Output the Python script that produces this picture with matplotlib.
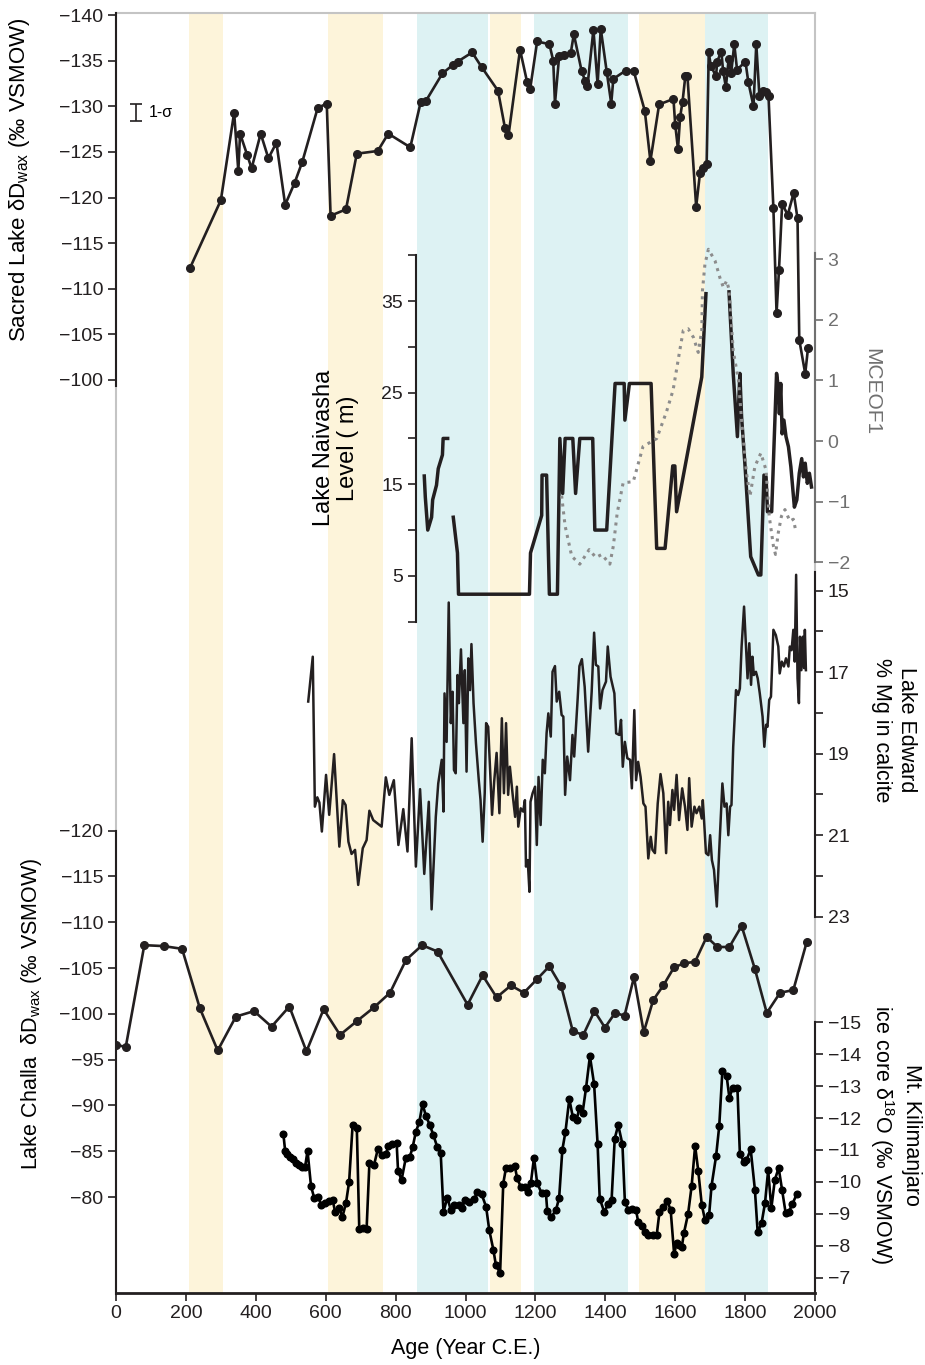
import numpy as np
import matplotlib.pyplot as plt

plt.rcParams['font.family'] = ['Liberation Sans', 'DejaVu Sans']
plt.rcParams['mathtext.fontset'] = 'custom'
plt.rcParams['mathtext.rm'] = 'Liberation Sans'

# ---- data (years C.E.) ----
yellow_bands = [(210, 305), (608, 765), (1070, 1158), (1497, 1684)]
cyan_bands = [(860, 1064), (1196, 1464), (1684, 1866)]

sacred_year = [212, 300, 338, 350, 355, 375, 388, 414, 436, 459,
               484, 511, 533, 577, 603, 614, 658, 689, 749, 779,
               842, 872, 887, 934, 963, 978, 1019, 1046, 1093, 1113,
               1123, 1156, 1176, 1185, 1205, 1240, 1251, 1256, 1268, 1282,
               1301, 1310, 1332, 1342, 1349, 1366, 1378, 1387, 1404, 1417,
               1423, 1458, 1481, 1513, 1529, 1554, 1595, 1600, 1608, 1614,
               1621, 1629, 1635, 1660, 1671, 1680, 1690, 1696, 1702, 1717,
               1720, 1732, 1737, 1745, 1753, 1760, 1769, 1777, 1801, 1809,
               1824, 1832, 1841, 1851, 1859, 1867, 1881, 1890, 1897, 1906,
               1922, 1939, 1950, 1955, 1972, 1980]
sacred_dD = [-112.3, -119.7, -129.3, -122.9, -127.0, -124.7, -123.2, -127.0, -124.3, -126.0,
             -119.2, -121.6, -123.9, -129.8, -130.3, -118.0, -118.7, -124.8, -125.1, -127.0,
             -125.5, -130.5, -130.6, -133.6, -134.5, -134.9, -135.9, -134.3, -131.7, -127.6,
             -126.8, -136.2, -132.7, -131.9, -137.1, -136.8, -135.0, -130.3, -135.5, -135.6,
             -135.8, -137.9, -133.9, -132.8, -132.2, -138.4, -132.4, -138.5, -133.8, -130.3,
             -133.0, -133.9, -133.9, -129.5, -124.0, -130.2, -130.8, -128.0, -125.3, -128.8,
             -130.5, -133.3, -133.3, -119.0, -122.7, -123.2, -123.7, -135.9, -134.4, -133.3,
             -134.9, -136.0, -133.9, -132.1, -135.2, -133.6, -136.8, -134.0, -134.9, -132.7,
             -130.0, -136.8, -131.1, -131.7, -131.6, -131.1, -118.8, -107.3, -112.1, -119.3,
             -118.1, -120.5, -117.7, -104.4, -100.7, -103.5]

naivasha_year = [882, 885, 892, 903, 906, 917, 922, 934, 936, 949, np.nan,
                 965, 977, 980, 1183, 1186, 1218, 1219, 1232, 1240, 1263,
                 1270, 1278, 1285, 1307, 1315, 1327, 1364, 1370, 1404, 1428,
                 1454, 1456, 1469, 1531, 1547, 1571, 1593, 1599, 1604, 1676,
                 1688, np.nan, 1754, 1766, 1778, 1785, 1790, 1800, 1816, 1838,
                 1845, 1854, 1860, 1864, 1876, 1890, 1895, 1898, 1902, 1906,
                 1911, 1917, 1924, 1931, 1941, 1948, 1955, 1962, 1967, 1972,
                 1978, 1984, 1990]
naivasha_level = [15.9, 13.6, 10.0, 11.4, 13.3, 14.9, 16.7, 18.2, 20.0, 20.0, np.nan,
                  11.4, 7.5, 3.0, 3.0, 7.5, 11.6, 16.0, 16.0, 3.0, 3.0,
                  20.0, 14.0, 20.0, 20.0, 14.0, 20.0, 20.0, 10.0, 10.0, 26.0,
                  26.0, 22.0, 26.0, 26.0, 8.0, 8.0, 17.0, 17.0, 12.0, 26.7,
                  35.8, np.nan, 36.0, 27.1, 20.2, 27.1, 22.3, 16.9, 7.1, 5.1,
                  5.1, 16.0, 15.8, 12.0, 12.0, 27.1, 25.6, 22.7, 26.0, 20.5,
                  22.0, 20.2, 19.1, 16.9, 12.5, 13.3, 16.2, 17.8, 15.8, 17.3,
                  15.1, 16.2, 14.7]

mceof_year = [1275, 1285, 1304, 1327, 1354, 1373, 1390, 1413, 1423, 1434,
              1451, 1480, 1508, 1547, 1575, 1594, 1613, 1623, 1637, 1652,
              1666, 1676, 1678, 1685, 1695, 1714, 1728, 1738, 1747, 1754,
              1766, 1781, 1790, 1804, 1814, 1828, 1845, 1860, 1869, 1881,
              1887, 1895, 1904, 1914, 1928, 1938, 1945]
mceof1 = [-0.9, -1.4, -1.9, -2.03, -1.79, -1.92, -1.87, -2.03, -1.73, -1.19,
          -0.69, -0.67, -0.09, 0.04, 0.48, 0.84, 1.49, 1.82, 1.85, 1.71,
          1.46, 1.82, 2.48, 2.91, 3.16, 2.97, 2.69, 2.53, 2.64, 2.5,
          1.49, 1.0, 0.34, -0.53, -0.91, -0.42, -0.2, -0.48, -1.24, -1.73,
          -1.87, -1.51, -1.24, -1.13, -1.32, -1.29, -1.48]

edward_year = [550, 563, 569, 576, 582, 589, 601, 610, 624, 639, 649, 657, 665, 674, 684,
               693, 706, 717, 725, 736, 760, 772, 782, 795, 808, 822, 834, 846, 858, 870,
               882, 895, 903, 915, 922, 932, 937, 940, 946, 952, 958, 963, 967, 972, 977,
               981, 987, 994, 998, 1003, 1008, 1013, 1017, 1023, 1030, 1038, 1043, 1049, 1055, 1059,
               1065, 1070, 1076, 1082, 1089, 1097, 1104, 1110, 1116, 1122, 1127, 1135, 1142, 1147, 1151,
               1158, 1165, 1170, 1173, 1178, 1183, 1186, 1192, 1199, 1204, 1209, 1215, 1221, 1227, 1232,
               1237, 1244, 1249, 1256, 1261, 1268, 1275, 1280, 1285, 1291, 1299, 1306, 1311, 1321, 1326,
               1333, 1341, 1351, 1361, 1368, 1373, 1380, 1385, 1392, 1402, 1407, 1415, 1426, 1431, 1440,
               1445, 1450, 1456, 1463, 1471, 1476, 1483, 1488, 1494, 1501, 1509, 1515, 1523, 1530, 1535,
               1542, 1550, 1558, 1566, 1574, 1580, 1585, 1592, 1597, 1604, 1611, 1620, 1628, 1635, 1640,
               1647, 1655, 1661, 1669, 1676, 1679, 1682, 1688, 1695, 1700, 1705, 1711, 1719, 1726, 1735,
               1741, 1747, 1752, 1757, 1761, 1766, 1774, 1780, 1785, 1790, 1797, 1802, 1807, 1812, 1817,
               1821, 1825, 1831, 1836, 1842, 1850, 1855, 1860, 1864, 1869, 1874, 1881, 1888, 1895, 1899,
               1905, 1911, 1917, 1924, 1928, 1933, 1938, 1942, 1946, 1950, 1954, 1957, 1961, 1965, 1969,
               1971, 1974]
edward_mg = [17.72, 16.62, 20.30, 20.07, 20.20, 20.91, 19.52, 20.50, 19.01, 21.28, 20.14, 20.26, 21.16, 21.46, 21.36,
             22.22, 21.32, 21.12, 20.40, 20.63, 20.79, 19.58, 20.01, 19.65, 21.24, 20.36, 21.40, 18.62, 21.77, 19.87,
             21.95, 20.18, 22.82, 20.55, 19.73, 19.15, 20.42, 17.52, 18.71, 15.29, 18.25, 17.48, 19.40, 19.48, 17.07,
             17.76, 16.44, 18.25, 16.95, 19.44, 16.66, 17.44, 16.31, 17.76, 18.75, 19.65, 20.14, 21.16, 19.97, 18.25,
             18.34, 19.32, 20.50, 19.69, 18.98, 20.46, 18.13, 19.97, 18.25, 20.01, 19.32, 20.01, 20.55, 19.81, 20.79,
             20.34, 20.42, 20.14, 21.77, 21.61, 22.39, 20.18, 19.97, 19.81, 21.24, 19.57, 20.75, 19.15, 19.48, 18.50,
             18.01, 18.58, 16.99, 16.85, 17.72, 17.48, 18.05, 18.09, 20.01, 19.07, 19.65, 18.54, 19.07, 17.64, 16.85,
             16.68, 17.36, 18.95, 17.48, 16.03, 16.82, 16.86, 17.89, 17.44, 17.23, 16.37, 17.11, 17.52, 18.50, 18.54,
             18.17, 19.32, 18.71, 19.11, 19.15, 19.85, 17.93, 19.65, 19.20, 19.57, 20.22, 20.30, 21.57, 21.04, 21.36,
             21.44, 20.22, 19.50, 19.97, 21.44, 20.18, 20.75, 19.89, 20.38, 19.52, 20.63, 19.85, 20.30, 20.87, 19.60,
             20.79, 20.30, 20.46, 20.30, 20.59, 20.14, 20.55, 21.44, 21.49, 21.00, 21.61, 21.85, 22.75, 21.36, 19.73,
             20.30, 20.22, 21.00, 20.30, 20.26, 18.83, 17.44, 17.56, 17.40, 16.37, 15.39, 16.29, 17.15, 16.29, 17.31,
             16.62, 17.07, 16.99, 17.15, 17.52, 18.09, 18.83, 18.29, 18.34, 17.68, 17.60, 15.96, 16.09, 16.37, 17.03,
             16.74, 16.86, 16.66, 16.86, 16.37, 16.46, 15.96, 16.74, 14.61, 17.15, 17.76, 16.13, 16.95, 16.13, 16.90,
             15.96, 16.95]

challa_year = [0, 28, 81, 136, 189, 240, 291, 343, 395, 445,
               496, 545, 594, 641, 689, 738, 784, 830, 876, 920,
               1006, 1049, 1089, 1130, 1167, 1205, 1240, 1274, 1307, 1337,
               1369, 1399, 1428, 1455, 1482, 1510, 1537, 1566, 1597, 1625,
               1657, 1690, 1721, 1755, 1790, 1828, 1862, 1900, 1938, 1976]
challa_dD = [-96.6, -96.4, -107.5, -107.4, -107.1, -100.6, -96.0, -99.7, -100.3, -98.6,
             -100.8, -95.9, -100.5, -97.7, -99.2, -100.7, -102.3, -105.9, -107.5, -106.8,
             -101.0, -104.2, -101.8, -103.1, -102.3, -103.8, -105.2, -103.0, -98.1, -97.7,
             -100.3, -98.5, -100.1, -99.8, -104.0, -98.0, -101.5, -103.1, -105.1, -105.5,
             -105.7, -108.4, -107.3, -107.3, -109.6, -104.9, -100.1, -102.3, -102.6, -107.8]

kili_year = [479, 484, 490, 498, 507, 515, 523, 531, 541, 548, 558, 567, 579, 587, 598,
             610, 620, 627, 638, 648, 658, 667, 677, 689, 696, 708, 717, 725, 738, 749,
             760, 772, 779, 791, 803, 807, 817, 829, 841, 849, 858, 868, 877, 887, 898,
             908, 919, 929, 937, 948, 958, 967, 980, 989, 999, 1011, 1024, 1034, 1046, 1059,
             1068, 1080, 1087, 1099, 1108, 1116, 1127, 1141, 1148, 1158, 1170, 1180, 1187, 1196, 1205,
             1218, 1230, 1234, 1246, 1259, 1268, 1277, 1286, 1297, 1307, 1318, 1326, 1335, 1345, 1356,
             1368, 1378, 1384, 1397, 1408, 1418, 1427, 1437, 1449, 1456, 1466, 1477, 1488, 1494, 1504,
             1514, 1523, 1536, 1547, 1555, 1566, 1577, 1587, 1597, 1604, 1612, 1619, 1625, 1637, 1647,
             1657, 1666, 1676, 1685, 1697, 1704, 1717, 1726, 1735, 1747, 1755, 1764, 1778, 1785, 1796,
             1804, 1816, 1828, 1836, 1847, 1857, 1866, 1875, 1885, 1896, 1906, 1916, 1925, 1935, 1948]
kili_d18O = [-11.49, -10.97, -10.89, -10.79, -10.71, -10.60, -10.53, -10.47, -10.47, -10.97, -9.87, -9.50, -9.53, -9.29, -9.34,
             -9.40, -9.43, -9.06, -9.17, -8.91, -9.34, -10.00, -11.78, -11.70, -8.54, -8.56, -8.52, -10.58, -10.52, -11.02,
             -10.84, -10.86, -11.12, -11.19, -11.21, -10.35, -10.06, -10.74, -10.79, -11.10, -11.57, -11.88, -12.44, -12.06, -11.78,
             -11.47, -11.10, -10.91, -9.06, -9.51, -9.12, -9.27, -9.27, -9.17, -9.43, -9.38, -9.45, -9.67, -9.62, -9.22,
             -8.49, -7.86, -7.39, -7.15, -9.95, -10.45, -10.45, -10.49, -10.11, -9.85, -9.85, -9.69, -9.97, -10.76, -9.97,
             -9.64, -9.66, -9.09, -8.91, -9.12, -9.51, -11.00, -11.57, -12.60, -12.04, -11.94, -12.33, -12.17, -12.95, -13.94,
             -13.06, -11.18, -9.48, -9.06, -9.30, -9.43, -11.36, -11.78, -11.18, -9.38, -9.12, -9.14, -9.12, -8.75, -8.61,
             -8.44, -8.35, -8.35, -8.33, -9.06, -9.20, -9.41, -9.12, -7.73, -8.09, -8.02, -7.97, -8.40, -9.01, -9.87,
             -11.13, -10.34, -9.29, -8.82, -8.96, -9.88, -10.81, -11.75, -13.48, -13.33, -12.64, -12.93, -12.95, -10.89, -10.63,
             -10.68, -11.02, -9.76, -8.42, -8.70, -9.34, -10.37, -9.17, -10.06, -10.44, -9.74, -9.03, -9.06, -9.30, -9.62]

# ---- layout ----
W, H = 925, 1365
L, R, T, B = 116, 815, 12.7, 1293
INK = '#231f20'
FRAME = '#c4c4c4'
GREY = '#707070'
fig = plt.figure(figsize=(W / 100, H / 100), dpi=100)
rect = [L / W, 1 - B / H, (R - L) / W, (B - T) / H]

tick_kw = dict(direction='out', length=6, width=1.2, labelsize=14, pad=3)

ax = fig.add_axes(rect)
ax.set_xlim(0, 2000)
ax.set_ylim(0, 1)
ax.set_yticks([])
for a, b in yellow_bands:
    ax.axvspan(a, b, color='#fdf4da', lw=0)
for a, b in cyan_bands:
    ax.axvspan(a, b, color='#ddf2f3', lw=0)
for s in ['top', 'left', 'right']:
    ax.spines[s].set_color(FRAME)
    ax.spines[s].set_linewidth(1.5)
ax.spines['bottom'].set_color(INK)
ax.spines['bottom'].set_linewidth(2)
ax.set_xticks(np.arange(0, 2001, 200))
ax.tick_params(axis='x', colors=INK, **tick_kw)
ax.set_xlabel('Age (Year C.E.)', fontsize=15.5, labelpad=11)


def overlay(p_a, v_a, p_b, v_b, side, bounds, color=INK, spine_x=None):
    o = fig.add_axes(rect, facecolor='none')
    s = (v_b - v_a) / (p_b - p_a)
    o.set_ylim(v_a + (B - p_a) * s, v_a + (T - p_a) * s)
    o.set_xlim(0, 2000)
    o.set_xticks([])
    for k in o.spines:
        o.spines[k].set_visible(k == side)
    sp = o.spines[side]
    sp.set_color(color)
    sp.set_linewidth(1.5)
    sp.set_bounds(*bounds)
    if spine_x is not None:
        sp.set_position(('data', spine_x))
    o.yaxis.set_ticks_position(side)
    o.tick_params(axis='y', colors=color, **tick_kw)
    return o


# Sacred Lake
a1 = overlay(15, -140, 380, -100, 'left', (-140.2, -99.3))
a1.set_yticks(np.arange(-140, -99, 5))
a1.plot(sacred_year, sacred_dD, color=INK, lw=1.9, marker='o', ms=5.5)
a1.errorbar([57], [-129.3], yerr=[0.9], color=INK, lw=1.2, capsize=4, capthick=1.2)
a1.text(95, -129.3, '1-σ', fontsize=11.5, va='center', ha='left')

# Naivasha level
a2 = overlay(621.7, 0, 301, 35, 'left', (0, 40), spine_x=857)
a2.set_yticks(np.arange(0, 41, 5))
a2.set_yticklabels(['', '5', '', '15', '', '25', '', '35', ''])
a2.plot(naivasha_year, naivasha_level, color=INK, lw=2.5)

# MCEOF1
a3 = overlay(441, 0, 259, 3, 'right', (-2, 3.1), color=GREY)
a3.set_yticks(np.arange(-2, 4, 1))
a3.plot(mceof_year, mceof1, color='#8c8c8c', lw=2.2, ls=(0, (1, 1.6)))

# Lake Edward
a4 = overlay(590.7, 15, 916.7, 23, 'right', (14.55, 23))
a4.set_yticks(np.arange(15, 24, 1))
a4.set_yticklabels(['15', '', '17', '', '19', '', '21', '', '23'])
a4.plot(edward_year, edward_mg, color=INK, lw=1.8)

# Lake Challa
a5 = overlay(830.7, -120, 1197, -80, 'left', (-120, -69.4))
a5.set_yticks(np.arange(-120, -79, 5))
a5.plot(challa_year, challa_dD, color=INK, lw=1.9, marker='o', ms=5.5)

# Kilimanjaro
a6 = overlay(1022.3, -15, 1277.7, -7, 'right', (-15, -6.5))
a6.set_yticks(np.arange(-15, -6, 1))
a6.plot(kili_year, kili_d18O, color='black', lw=1.9, marker='o', ms=4.8)


def ftext(px, py, s, **kw):
    fig.text(px / W, 1 - py / H, s, ha='center', va='center', **kw)


ftext(20, 180, 'Sacred Lake δD$_\\mathregular{wax}$ (‰ VSMOW)', rotation=90, fontsize=16)
ftext(32, 1014, 'Lake Challa  δD$_\\mathregular{wax}$ (‰ VSMOW)', rotation=90, fontsize=15.5)
ftext(336, 448, 'Lake Naivasha\nLevel ( m)', rotation=90, fontsize=17, multialignment='center',
      linespacing=1.1)
ftext(872, 392, 'MCEOF1', rotation=270, fontsize=15, color=GREY)
ftext(894, 730, 'Lake Edward\n% Mg in calcite', rotation=270, fontsize=15.5,
      multialignment='center', linespacing=1.2)
ftext(895, 1135, 'Mt. Kilimanjaro\nice core δ$^\\mathregular{18}$O (‰ VSMOW)', rotation=270,
      fontsize=15.5, multialignment='center', linespacing=1.2)

fig.savefig('out.png', dpi=100)
